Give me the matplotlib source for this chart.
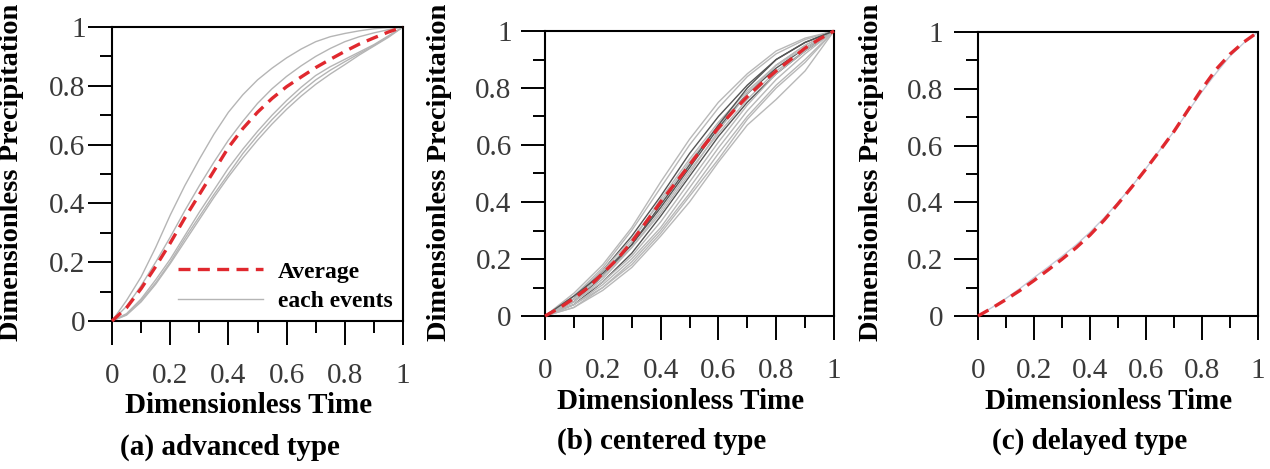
import matplotlib
matplotlib.use("Agg")
import matplotlib.pyplot as plt
from matplotlib.lines import Line2D
from matplotlib.ticker import MultipleLocator

plt.rcParams['font.family'] = ['Liberation Serif', 'DejaVu Serif']

# dimensionless time grids
time11 = [0, 0.1, 0.2, 0.3, 0.4, 0.5, 0.6, 0.7, 0.8, 0.9, 1.0]
time21 = [0, 0.05, 0.1, 0.15, 0.2, 0.25, 0.3, 0.35, 0.4, 0.45, 0.5,
          0.55, 0.6, 0.65, 0.7, 0.75, 0.8, 0.85, 0.9, 0.95, 1.0]
tick_vals = [0, 0.2, 0.4, 0.6, 0.8, 1]
tick_labels = ['0', '0.2', '0.4', '0.6', '0.8', '1']

# (a) advanced type (read on time21)
adv_events = [
    [0, 0.07, 0.15, 0.25, 0.36, 0.46, 0.55, 0.635, 0.71, 0.77, 0.82,
     0.86, 0.895, 0.925, 0.95, 0.967, 0.978, 0.987, 0.994, 0.998, 1],
    [0, 0.05, 0.12, 0.20, 0.285, 0.375, 0.46, 0.54, 0.615, 0.68, 0.74,
     0.79, 0.832, 0.868, 0.90, 0.927, 0.95, 0.967, 0.98, 0.991, 1],
    [0, 0.025, 0.075, 0.14, 0.21, 0.29, 0.37, 0.445, 0.52, 0.585, 0.645,
     0.70, 0.75, 0.795, 0.835, 0.865, 0.89, 0.915, 0.94, 0.97, 1],
    [0, 0.02, 0.065, 0.125, 0.195, 0.27, 0.345, 0.42, 0.49, 0.555, 0.615,
     0.67, 0.72, 0.765, 0.805, 0.84, 0.872, 0.905, 0.935, 0.965, 1],
    [0, 0.022, 0.07, 0.13, 0.20, 0.28, 0.355, 0.43, 0.50, 0.57, 0.63,
     0.685, 0.735, 0.78, 0.82, 0.853, 0.882, 0.91, 0.937, 0.968, 1],
]
adv_avg = [0, 0.045, 0.11, 0.185, 0.265, 0.35, 0.43, 0.51, 0.59, 0.655, 0.71,
           0.757, 0.797, 0.83, 0.862, 0.89, 0.917, 0.942, 0.963, 0.983, 1]

# (b) centered type (events read on time11, average on time21)
cen_events = [
    [0, 0.08, 0.18, 0.31, 0.47, 0.62, 0.75, 0.85, 0.93, 0.975, 1],
    [0, 0.07, 0.17, 0.30, 0.45, 0.60, 0.73, 0.84, 0.92, 0.97, 1],
    [0, 0.06, 0.16, 0.28, 0.42, 0.57, 0.70, 0.81, 0.90, 0.96, 1],
    [0, 0.07, 0.16, 0.27, 0.40, 0.54, 0.67, 0.78, 0.88, 0.95, 1],
    [0, 0.05, 0.14, 0.25, 0.38, 0.52, 0.66, 0.78, 0.87, 0.94, 1],
    [0, 0.06, 0.15, 0.26, 0.41, 0.55, 0.68, 0.79, 0.88, 0.94, 1],
    [0, 0.05, 0.13, 0.24, 0.37, 0.51, 0.64, 0.76, 0.86, 0.93, 1],
    [0, 0.04, 0.12, 0.22, 0.35, 0.49, 0.63, 0.75, 0.85, 0.93, 1],
    [0, 0.05, 0.12, 0.21, 0.33, 0.47, 0.61, 0.74, 0.85, 0.93, 1],
    [0, 0.04, 0.11, 0.20, 0.31, 0.45, 0.59, 0.72, 0.83, 0.92, 1],
    [0, 0.03, 0.10, 0.19, 0.30, 0.43, 0.57, 0.70, 0.81, 0.90, 1],
    [0, 0.03, 0.09, 0.17, 0.28, 0.40, 0.54, 0.67, 0.76, 0.86, 1],
    [0, 0.06, 0.14, 0.24, 0.36, 0.50, 0.65, 0.78, 0.88, 0.95, 1],
    [0, 0.07, 0.15, 0.25, 0.39, 0.53, 0.67, 0.80, 0.90, 0.96, 1],
    [0, 0.04, 0.10, 0.18, 0.29, 0.42, 0.55, 0.69, 0.80, 0.89, 1],
]
cen_dark = [2, 4, 7, 13]
cen_avg = [0, 0.028, 0.062, 0.10, 0.15, 0.20, 0.26, 0.33, 0.40, 0.465, 0.53,
           0.597, 0.66, 0.717, 0.77, 0.817, 0.86, 0.90, 0.94, 0.972, 1]

# (c) delayed type (read on time21)
del_events = [
    [0, 0.03, 0.062, 0.097, 0.135, 0.172, 0.21, 0.25, 0.295, 0.345, 0.40,
     0.458, 0.52, 0.585, 0.65, 0.72, 0.79, 0.855, 0.915, 0.962, 1],
]
del_avg = [0, 0.028, 0.058, 0.09, 0.125, 0.162, 0.20, 0.24, 0.285, 0.337, 0.395,
           0.455, 0.518, 0.583, 0.65, 0.725, 0.80, 0.868, 0.922, 0.965, 1]

W, H = 1270, 469
fig = plt.figure(figsize=(12.7, 4.69), dpi=100)


def px_axes(left, right, top, bottom):
    return fig.add_axes([left / W, 1 - bottom / H, (right - left) / W, (bottom - top) / H])


def style(ax, ypad):
    ax.set_xlim(0, 1)
    ax.set_ylim(0, 1)
    ax.set_xticks(tick_vals)
    ax.set_xticklabels(tick_labels)
    ax.set_yticks(tick_vals)
    ax.set_yticklabels(tick_labels)
    ax.xaxis.set_minor_locator(MultipleLocator(0.1))
    ax.yaxis.set_minor_locator(MultipleLocator(0.1))
    ax.tick_params(which='major', direction='out', length=17, width=1.4,
                   labelsize=21, colors='black', labelcolor='#3a3a3a')
    ax.tick_params(axis='x', which='major', pad=13)
    ax.tick_params(axis='y', which='major', pad=ypad)
    ax.tick_params(which='minor', direction='out', length=8.5, width=1.4)
    for s in ax.spines.values():
        s.set_linewidth(1.5)


red = '#e0282e'
dash = (0, (3.6, 2.2))

panels = [
    (px_axes(112, 403, 27, 321), time21, adv_events, adv_avg, '(a) advanced type', 12, 2),
    (px_axes(545, 834, 31, 316), time11, cen_events, cen_avg, '(b) centered type', 440, 7),
    (px_axes(978, 1258, 32, 316), time21, del_events, del_avg, '(c) delayed type', 871, 8),
]

for i, (ax, t_ev, events, avg, title, ylab_x, ypad) in enumerate(panels):
    style(ax, ypad)
    for j, ev in enumerate(events):
        if i == 1:
            col = '#555555' if j in cen_dark else '#b8b8b8'
        elif i == 2:
            col = '#c5c9d6'
        else:
            col = '#b5b5b5'
        ax.plot(t_ev, ev, color=col, lw=1.0, clip_on=False, zorder=2)
    ax.plot(time21, avg, color=red, lw=2.4, linestyle=dash, clip_on=False, zorder=3)

    pos = ax.get_position()
    cx = (pos.x0 + pos.x1) / 2 * W - 9
    base = 413 if i == 0 else 409
    sub = 455 if i == 0 else 449
    fig.text(cx / W, 1 - base / H, 'Dimensionless Time', fontsize=21,
             fontweight='bold', ha='center', va='baseline')
    fig.text((cx - 19) / W, 1 - sub / H, title, fontsize=21,
             fontweight='bold', ha='center', va='baseline')
    fig.text(ylab_x / W, 1 - 341 / H, 'Dimensionless Precipitation', fontsize=20.5,
             fontweight='bold', rotation=90, ha='center', va='bottom')

ax_a = panels[0][0]
handles = [Line2D([], [], color=red, lw=2.4, linestyle=dash),
           Line2D([], [], color='#b5b5b5', lw=1.0)]
ax_a.legend(handles, ['Average', 'each events'], loc='lower right',
            bbox_to_anchor=(1.02, -0.027), frameon=False, handlelength=3.6,
            handletextpad=0.6, labelspacing=0.35, borderpad=0.2,
            prop={'family': 'Liberation Serif', 'weight': 'bold', 'size': 17})

fig.savefig('out.png', dpi=100)
